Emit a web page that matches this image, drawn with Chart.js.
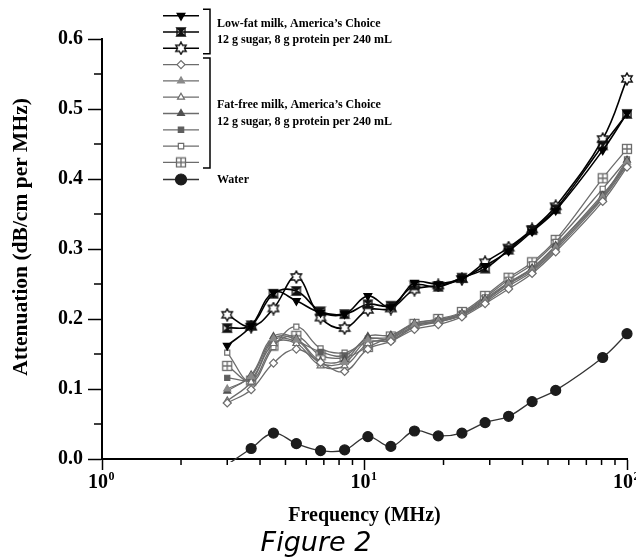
<!DOCTYPE html>
<html>
<head>
<meta charset="utf-8">
<script src="https://cdn.jsdelivr.net/npm/chart.js@4/dist/chart.umd.min.js"></script>
<style>
  html, body { margin: 0; padding: 0; background: #fff; overflow: hidden; }
  #wrap { position: relative; width: 636px; height: 558px; overflow: hidden; }
  #grafico { position: absolute; left: 0; top: 0; }
  #pie {
    position: absolute; left: 0; width: 632px; top: 526px;
    text-align: center; font: italic 27px "DejaVu Sans", Verdana, sans-serif;
    line-height: 32px; color: #000;
  }
</style>
</head>
<body>
<div id="wrap">
  <canvas id="grafico" width="660" height="558"></canvas>
  <div id="pie">Figure 2</div>
</div>
<script>
// -------- DATOS --------
const frecuencias = [3.0, 3.7, 4.5, 5.5, 6.8, 8.4, 10.3, 12.6, 15.5, 19.1, 23.5, 28.8, 35.4, 43.5, 53.5, 80.8, 100];

// leche semidescremada (negro)
const semiTriangulo = [0.162, 0.190, 0.238, 0.226, 0.209, 0.207, 0.233, 0.217, 0.252, 0.250, 0.258, 0.276, 0.297, 0.325, 0.355, 0.441, 0.494];
const semiCruz      = [0.187, 0.191, 0.236, 0.240, 0.211, 0.207, 0.221, 0.219, 0.248, 0.246, 0.259, 0.272, 0.299, 0.327, 0.357, 0.448, 0.493];
const semiEstrella  = [0.206, 0.189, 0.215, 0.260, 0.202, 0.187, 0.213, 0.215, 0.242, 0.248, 0.257, 0.281, 0.302, 0.328, 0.361, 0.457, 0.543];

// leche descremada (gris)
const descRombo      = [0.080, 0.099, 0.137, 0.157, 0.138, 0.125, 0.157, 0.168, 0.185, 0.192, 0.203, 0.222, 0.243, 0.265, 0.296, 0.368, 0.417];
const descTriGris    = [0.100, 0.118, 0.172, 0.170, 0.137, 0.138, 0.170, 0.174, 0.192, 0.197, 0.206, 0.226, 0.250, 0.270, 0.302, 0.374, 0.424];
const descTriAbierto = [0.083, 0.110, 0.165, 0.165, 0.133, 0.133, 0.165, 0.172, 0.190, 0.196, 0.205, 0.224, 0.247, 0.268, 0.299, 0.372, 0.420];
const descTriOscuro  = [0.097, 0.120, 0.175, 0.172, 0.140, 0.142, 0.175, 0.177, 0.194, 0.199, 0.208, 0.229, 0.252, 0.273, 0.305, 0.376, 0.427];
const descCuadrado   = [0.116, 0.115, 0.170, 0.168, 0.153, 0.148, 0.172, 0.171, 0.188, 0.196, 0.206, 0.227, 0.251, 0.272, 0.304, 0.378, 0.420];
const descCuadAbierto= [0.152, 0.110, 0.160, 0.189, 0.158, 0.152, 0.168, 0.169, 0.190, 0.198, 0.208, 0.231, 0.256, 0.278, 0.310, 0.386, 0.428];
const descCuadCruz   = [0.133, 0.112, 0.162, 0.176, 0.148, 0.145, 0.160, 0.175, 0.193, 0.200, 0.210, 0.233, 0.259, 0.281, 0.313, 0.401, 0.443];

const agua = [-0.008, 0.015, 0.037, 0.022, 0.012, 0.013, 0.032, 0.018, 0.040, 0.033, 0.037, 0.052, 0.061, 0.082, 0.098, 0.145, 0.179];

const decadas = [1, 10, 100];
const exponentes = ["0", "1", "2"];
const menoresX = [2, 3, 4, 5, 6, 7, 8, 9, 20, 30, 40, 50, 60, 70, 80, 90];
const menoresY = [0.05, 0.15, 0.25, 0.35, 0.45, 0.55];

const grupos = [
  { lineas: ["Low-fat milk, America\u2019s Choice", "12 g sugar, 8 g protein per 240 mL"], desde: 0, hasta: 2 },
  { lineas: ["Fat-free milk, America\u2019s Choice", "12 g sugar, 8 g protein per 240 mL"], desde: 3, hasta: 9 },
  { lineas: ["Water"], desde: 10, hasta: 10 }
];

const tituloY = "Attenuation (dB/cm per MHz)";

const SERIF = '"Liberation Serif", "Times New Roman", serif';
const NEGRO = "#000";
const GRIS = "#6c6c6c";

// -------- MARCADORES --------
function marcaEstrella(color) {
  const c = document.createElement("canvas");
  c.width = c.height = 14;
  const g = c.getContext("2d");
  g.beginPath();
  for (let k = 0; k < 12; k++) {
    const r = k % 2 ? 3.4 : 6;
    const a = -Math.PI / 2 + k * Math.PI / 6;
    g.lineTo(7 + r * Math.cos(a), 7 + r * Math.sin(a));
  }
  g.closePath();
  g.fillStyle = "#fff";
  g.fill();
  g.strokeStyle = color;
  g.lineWidth = 1.4;
  g.stroke();
  return c;
}

function marcaReloj(color) {
  const c = document.createElement("canvas");
  c.width = c.height = 12;
  const g = c.getContext("2d");
  g.beginPath();
  g.moveTo(2, 2); g.lineTo(10, 2); g.lineTo(2, 10); g.lineTo(10, 10); g.closePath();
  g.fillStyle = color;
  g.fill();
  g.strokeStyle = color;
  g.lineWidth = 1.4;
  g.stroke();
  g.beginPath();
  g.moveTo(2, 2); g.lineTo(2, 10); g.moveTo(10, 2); g.lineTo(10, 10);
  g.stroke();
  return c;
}

function marcaCuadCruz(color) {
  const c = document.createElement("canvas");
  c.width = c.height = 12;
  const g = c.getContext("2d");
  g.fillStyle = "#fff";
  g.fillRect(1.5, 1.5, 9, 9);
  g.strokeStyle = color;
  g.lineWidth = 1.3;
  g.strokeRect(1.5, 1.5, 9, 9);
  g.beginPath();
  g.moveTo(6, 1.5); g.lineTo(6, 10.5); g.moveTo(1.5, 6); g.lineTo(10.5, 6);
  g.stroke();
  return c;
}

// -------- SERIES --------
function serie(label, valores, color, estilo) {
  const negro = color === NEGRO;
  return Object.assign({
    label,
    data: frecuencias.map((f, i) => ({ x: f, y: valores[i] })),
    borderColor: color,
    borderWidth: negro ? 1.6 : 1.3,
    pointBorderColor: color,
    pointBorderWidth: 1.2,
    pointRadius: negro ? 4.5 : 4,
    legendRadius: negro ? 4.5 : 4,
    tension: 0.4,
    fill: false,
    clip: { left: 4, top: 4, right: 8, bottom: 3 }
  }, estilo);
}

const datasets = [
  serie("Low-fat 1", semiTriangulo, NEGRO, { pointStyle: "triangle", pointRotation: 180, pointBackgroundColor: NEGRO }),
  serie("Low-fat 2", semiCruz, NEGRO, { pointStyle: marcaReloj("#111"), pointBackgroundColor: NEGRO }),
  serie("Low-fat 3", semiEstrella, NEGRO, { pointStyle: marcaEstrella("#111"), pointBackgroundColor: "#fff" }),
  serie("Fat-free 1", descRombo, GRIS, { pointStyle: "rectRot", pointBackgroundColor: "#fff" }),
  serie("Fat-free 2", descTriGris, GRIS, { pointStyle: "triangle", pointBackgroundColor: "#8a8a8a", pointBorderColor: "#8a8a8a" }),
  serie("Fat-free 3", descTriAbierto, GRIS, { pointStyle: "triangle", pointBackgroundColor: "#fff" }),
  serie("Fat-free 4", descTriOscuro, GRIS, { pointStyle: "triangle", pointBackgroundColor: "#505050", pointBorderColor: "#505050" }),
  serie("Fat-free 5", descCuadrado, GRIS, { pointStyle: "rect", pointBackgroundColor: "#5e5e5e", pointBorderColor: "#5e5e5e", pointRadius: 3.6, legendRadius: 3.8 }),
  serie("Fat-free 6", descCuadAbierto, GRIS, { pointStyle: "rect", pointBackgroundColor: "#fff", pointRadius: 3.6, legendRadius: 3.8 }),
  serie("Fat-free 7", descCuadCruz, GRIS, { pointStyle: marcaCuadCruz(GRIS), pointBackgroundColor: "#fff" }),
  serie("Water", agua, "#333", {
    pointStyle: "circle", pointBackgroundColor: "#1c1c1c", pointBorderColor: "#1c1c1c",
    pointRadius: agua.map(v => (v < 0 ? 0 : 5)), legendRadius: 5.5, borderWidth: 1.3
  })
];

// -------- PLUGINS --------
const ticksMenores = {
  id: "ticksMenores",
  afterDraw(chart) {
    const { ctx, scales: { x, y } } = chart;
    ctx.save();
    ctx.strokeStyle = NEGRO;
    ctx.lineWidth = 1.5;
    ctx.beginPath();
    menoresX.forEach(v => {
      const px = x.getPixelForValue(v);
      ctx.moveTo(px, y.bottom);
      ctx.lineTo(px, y.bottom + 6);
    });
    menoresY.forEach(v => {
      const py = y.getPixelForValue(v);
      ctx.moveTo(x.left, py);
      ctx.lineTo(x.left - 8, py);
    });
    ctx.stroke();
    ctx.restore();
  }
};

// exponentes de las decadas y titulo vertical
const textosEjes = {
  id: "textosEjes",
  afterDraw(chart) {
    const { ctx, scales: { x, y } } = chart;
    ctx.save();
    ctx.fillStyle = NEGRO;
    ctx.font = "bold 20px " + SERIF;
    const ancho = ctx.measureText("10").width;
    ctx.font = "bold 12px " + SERIF;
    ctx.textBaseline = "top";
    ctx.textAlign = "left";
    decadas.forEach((v, i) => {
      const cx = x.getPixelForValue(v) - 4;
      ctx.fillText(exponentes[i], cx + ancho / 2 + 0.5, x.top + 12);
    });

    ctx.translate(21, (y.top + y.bottom) / 2 - 12);
    ctx.rotate(-Math.PI / 2);
    ctx.font = "bold 21.5px " + SERIF;
    ctx.textAlign = "center";
    ctx.textBaseline = "middle";
    ctx.fillText(tituloY, 0, 0);
    ctx.restore();
  }
};

const leyenda = {
  id: "leyenda",
  afterDraw(chart) {
    const ctx = chart.ctx;
    const filaY = i => (i < 10 ? 15.7 + i * 16.3 : 179.5);

    chart.data.datasets.forEach((ds, i) => {
      const yF = filaY(i);
      ctx.save();
      ctx.strokeStyle = ds.borderColor;
      ctx.lineWidth = ds.borderWidth;
      ctx.beginPath();
      ctx.moveTo(163, yF);
      ctx.lineTo(199, yF);
      ctx.stroke();
      ctx.fillStyle = ds.pointBackgroundColor;
      ctx.strokeStyle = ds.pointBorderColor;
      ctx.lineWidth = ds.pointBorderWidth;
      Chart.helpers.drawPoint(ctx, {
        pointStyle: ds.pointStyle,
        rotation: ds.pointRotation || 0,
        radius: ds.legendRadius,
        borderWidth: ds.pointBorderWidth
      }, 181, yF);
      ctx.restore();
    });

    ctx.save();
    ctx.strokeStyle = NEGRO;
    ctx.lineWidth = 1.5;
    ctx.fillStyle = NEGRO;
    ctx.font = "bold 12px " + SERIF;
    ctx.textBaseline = "middle";
    grupos.forEach(gr => {
      const y0 = filaY(gr.desde);
      const y1 = filaY(gr.hasta);
      if (gr.hasta > gr.desde) {
        ctx.beginPath();
        ctx.moveTo(203, y0 - 6.5);
        ctx.lineTo(210, y0 - 6.5);
        ctx.lineTo(210, y1 + 5.5);
        ctx.lineTo(203, y1 + 5.5);
        ctx.stroke();
      }
      const centro = (y0 + y1) / 2;
      const n = gr.lineas.length;
      gr.lineas.forEach((t, k) => {
        ctx.fillText(t, 217, centro + (k - (n - 1) / 2) * 16.8);
      });
    });
    ctx.restore();
  }
};

// -------- GRAFICO --------
new Chart(document.getElementById("grafico"), {
  type: "line",
  data: { datasets },
  options: {
    responsive: false,
    animation: false,
    layout: { padding: { left: 0, top: 39, right: 33, bottom: 30 } },
    plugins: { legend: { display: false }, tooltip: { enabled: false } },
    scales: {
      x: {
        type: "logarithmic",
        min: 1,
        max: 100,
        afterBuildTicks: s => { s.ticks = decadas.map(v => ({ value: v })); },
        afterFit: s => { s.height = 69; },
        ticks: {
          callback: () => "10",
          color: NEGRO,
          font: { family: SERIF, size: 20, weight: "bold" },
          maxRotation: 0,
          autoSkip: false,
          labelOffset: -4,
          padding: 1
        },
        grid: { drawOnChartArea: false, tickLength: 11, tickColor: NEGRO, tickWidth: 1.5 },
        border: { color: NEGRO, width: 2 },
        title: {
          display: true,
          text: "Frequency (MHz)",
          color: NEGRO,
          font: { family: SERIF, size: 20, weight: "bold" },
          padding: 0
        }
      },
      y: {
        min: 0,
        max: 0.6,
        afterFit: s => { s.width = 102; },
        ticks: {
          stepSize: 0.1,
          callback: v => v.toFixed(1),
          color: NEGRO,
          font: { family: SERIF, size: 20, weight: "bold" },
          padding: 5
        },
        grid: { drawOnChartArea: false, tickLength: 14, tickColor: NEGRO, tickWidth: 1.5 },
        border: { color: NEGRO, width: 2 },
        title: { display: false }
      }
    }
  },
  plugins: [ticksMenores, textosEjes, leyenda]
});
</script>
</body>
</html>
